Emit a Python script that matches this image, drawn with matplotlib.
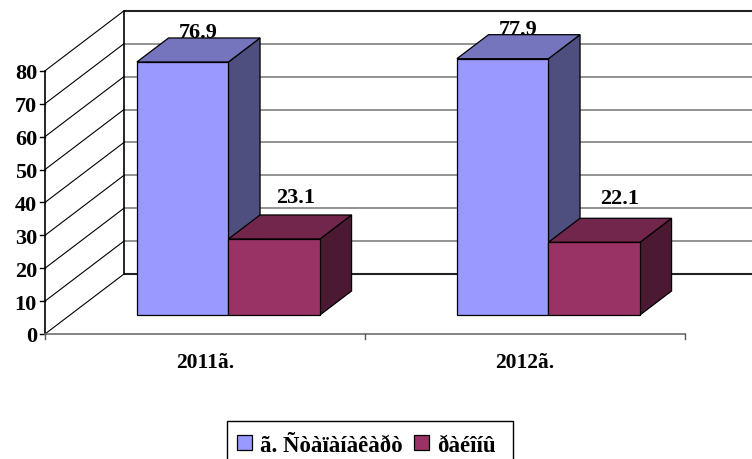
import matplotlib
matplotlib.use("Agg")
import matplotlib.pyplot as plt
from matplotlib.patches import Polygon, Patch, Rectangle

categories = ["2011ã.", "2012ã."]
series_names = ["ã. Ñòàïàíàêàðò", "ðàéîíû"]
stepanakert = [76.9, 77.9]
districts = [23.1, 22.1]
y_ticks = [0, 10, 20, 30, 40, 50, 60, 70, 80]

FONT = dict(family="Liberation Serif", fontweight="bold", color="black")
FS = 16
X0, CAT_W, DX = 45, 320, 79
Y0, UNIT, DY = 335, 3.29, 60

def px(cat, depth=0.0):
    return X0 + CAT_W * cat + DX * depth

def py(val, depth=0.0):
    return Y0 - UNIT * val - DY * depth

fig = plt.figure(figsize=(7.52, 4.6), dpi=100)
ax = fig.add_axes([0, 0, 1, 1])
ax.set_xlim(0, 752)
ax.set_ylim(460, 0)
ax.axis("off")

n_cat = len(categories)
top = y_ticks[-1]

# back wall
for v in y_ticks:
    edge = v in (y_ticks[0], top)
    ax.plot([px(0, 1), px(n_cat, 1)], [py(v, 1)] * 2,
            color="#222222" if edge else "#808080",
            lw=1.5 if edge else 1.2, zorder=1, solid_capstyle="butt")
    ax.plot([px(0), px(0, 1)], [py(v), py(v, 1)], color="black", lw=0.8, zorder=1)
    ax.plot([px(0) - 5, px(0)], [py(v)] * 2, color="black", lw=1, zorder=1)
    ax.text(px(0) - 8, py(v), str(v), ha="right", va="center_baseline", fontsize=FS, **FONT)
ax.plot([px(0, 1)] * 2, [py(0, 1), py(top, 1)], color="black", lw=1.2, zorder=1)
ax.plot([px(0)] * 2, [py(0), py(top)], color="black", lw=1.2, zorder=1)
ax.plot([px(0), px(n_cat)], [py(0)] * 2, color="#707070", lw=1.2, zorder=1)
for c in range(n_cat + 1):
    ax.plot([px(c)] * 2, [py(0), py(0) + 5], color="#555555", lw=1, zorder=1)
for c, name in enumerate(categories):
    ax.text(px(c + 0.5), 363, name, ha="center", va="center", fontsize=FS - 0.5, **FONT)

# 3-D bars
BAR_START, BAR_W = 0.209, 0.286
D0, D1 = 0.317, 0.717
styles = [("#9999FF", "#7575BD", "#4F4F7F"), ("#993366", "#72264C", "#4C1933")]
label_shift = [[(0, -18), (0, -18)], [(6, -30), (10, -32)]]

def bar3d(cat, slot, value, cols):
    c0 = cat + BAR_START + slot * BAR_W
    c1 = c0 + BAR_W
    front, upper, side = cols
    kw = dict(edgecolor="black", lw=0.9, joinstyle="miter", zorder=3 + slot)
    ax.add_patch(Polygon([(px(c1, D0), py(0, D0)), (px(c1, D1), py(0, D1)),
                          (px(c1, D1), py(value, D1)), (px(c1, D0), py(value, D0))],
                         facecolor=side, **kw))
    ax.add_patch(Polygon([(px(c0, D0), py(value, D0)), (px(c1, D0), py(value, D0)),
                          (px(c1, D1), py(value, D1)), (px(c0, D1), py(value, D1))],
                         facecolor=upper, **kw))
    ax.add_patch(Polygon([(px(c0, D0), py(0, D0)), (px(c1, D0), py(0, D0)),
                          (px(c1, D0), py(value, D0)), (px(c0, D0), py(value, D0))],
                         facecolor=front, **kw))
    return px((c0 + c1) / 2, (D0 + D1) / 2), py(value, (D0 + D1) / 2)

for c in range(n_cat):
    for s, vals in enumerate([stepanakert, districts]):
        x, y = bar3d(c, s, vals[c], styles[s])
        sx, sy = label_shift[s][c]
        ax.text(x + sx, y + sy, f"{vals[c]:.1f}", ha="center", va="center",
                fontsize=FS, zorder=10, **FONT)

# legend box runs off the lower figure edge, as in the reference
ax.add_patch(Rectangle((227, 422), 286, 60, facecolor="white", edgecolor="black",
                       lw=1, zorder=19))
handles = [Patch(facecolor=styles[i][0], edgecolor="black", lw=0.9) for i in range(2)]
leg = ax.legend(handles, series_names, loc="upper left",
                bbox_to_anchor=(227 / 752, 1 - 425.5 / 460), bbox_transform=fig.transFigure,
                ncol=2, frameon=False,
                prop=dict(family="Liberation Serif", weight="bold", size=FS + 0.5),
                handlelength=0.62, handleheight=0.62, handletextpad=0.38,
                columnspacing=0.5, borderpad=0.45, borderaxespad=0)
leg.set_zorder(20)

fig.savefig("out.png", dpi=100)
